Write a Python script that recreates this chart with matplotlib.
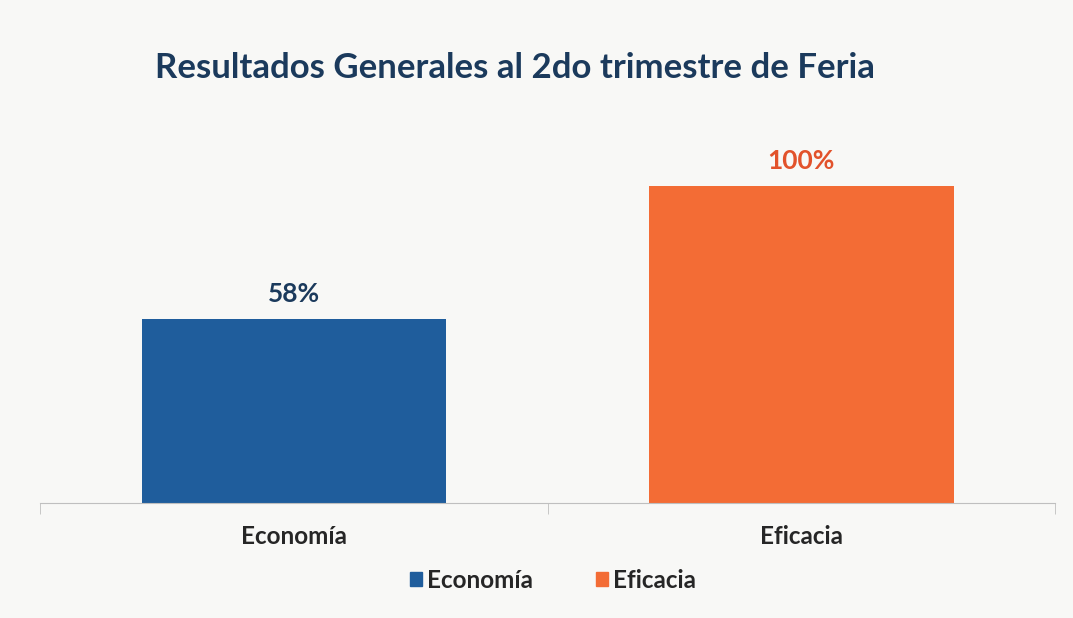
import matplotlib.pyplot as plt
from matplotlib.patches import Patch

categories = ['Economía', 'Eficacia']
values = [58, 100]
value_labels = ['58%', '100%']
colors = ['#1F5D9C', '#F36C35']
label_colors = ['#1B3A5C', '#E2522B']

plt.rcParams['font.family'] = ['Lato', 'DejaVu Sans']

fig = plt.figure(figsize=(10.73, 6.18), dpi=100)
fig.patch.set_facecolor('#F8F8F6')
# axes: baseline at y=503px, 100 -> y=186px
ax = fig.add_axes([40 / 1073, 115 / 618, 1015 / 1073, 353 / 618])
ax.set_facecolor('none')
ymax = 100 * 353 / 317
ax.set_ylim(0, ymax)
ax.set_xlim(-0.5, 1.5)

x = range(len(categories))
bars = ax.bar(x, values, width=0.6, color=colors)
for b, v, lab, c in zip(bars, values, value_labels, label_colors):
    ax.text(b.get_x() + b.get_width() / 2, v + 4, lab, ha='center', va='bottom',
            fontsize=19, fontweight='bold', color=c)

for s in ['top', 'right', 'left']:
    ax.spines[s].set_visible(False)
ax.spines['bottom'].set_color('#BFBFBF')
ax.set_yticks([])
ax.set_xticks([-0.5, 0.5, 1.5], minor=True)
ax.tick_params(axis='x', which='minor', length=8, color='#BFBFBF')
ax.set_xticks(list(x))
ax.set_xticklabels(categories, fontsize=17.5, fontweight='bold', color='#262626')
ax.tick_params(axis='x', which='major', length=0, pad=16)

fig.text(155 / 1073, 1 - 68 / 618, 'Resultados Generales al 2do trimestre de Feria',
         fontsize=25, fontweight='bold', color='#1B3A5C', va='center', ha='left')

handles = [Patch(color=c, label=l) for c, l in zip(colors, categories)]
fig.legend(handles=handles, loc='center', bbox_to_anchor=(553 / 1073, 1 - 580 / 618),
           ncol=2, frameon=False, handlelength=0.5, handleheight=0.5,
           handletextpad=0.2, columnspacing=2.6,
           prop={'weight': 'bold', 'size': 17.5})
for t in fig.legends[0].get_texts():
    t.set_color('#262626')

fig.savefig('out.png', dpi=100, facecolor=fig.get_facecolor())
